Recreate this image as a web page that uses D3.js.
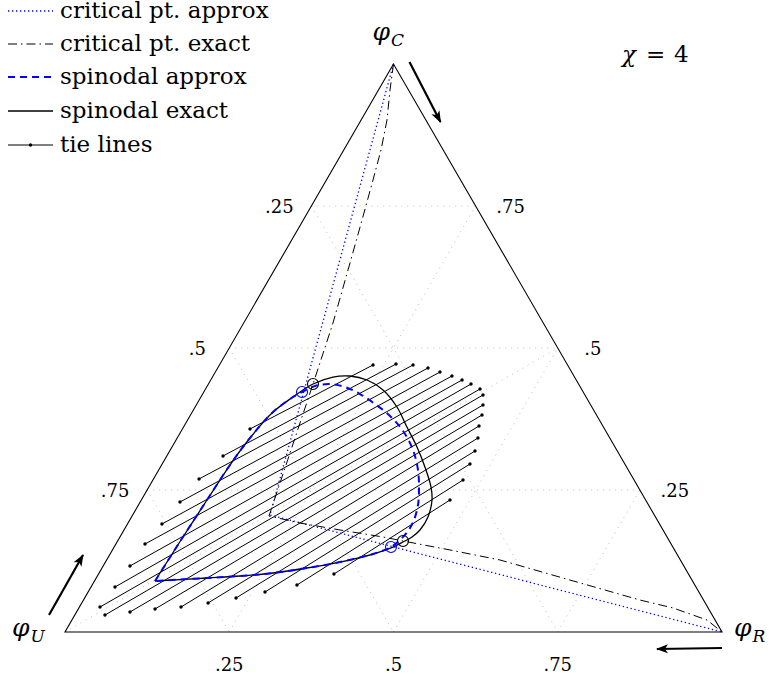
<!DOCTYPE html>
<html><head><meta charset="utf-8">
<script src="https://cdn.jsdelivr.net/npm/d3@7"></script>
<style>body{margin:0;background:#fff} svg{display:block}</style>
</head><body>
<svg id="chart" width="773" height="680"></svg>
<script>
// Compositions are stored as [phiR, phiC]; phiU = 1 - phiR - phiC.
const gridLevels = [0.25, 0.5, 0.75];
const tickLabels = {0.25: ".25", 0.5: ".5", 0.75: ".75"};
const chi = 4;

// tie lines: lower (U-rich) and upper ends, paired by index
const tieLow = [
  [0.1029,0.3574],[0.0856,0.3099],[0.0693,0.2694],[0.0606,0.2289],[0.0525,0.1901],
  [0.0443,0.1549],[0.0408,0.1162],[0.0365,0.0792],[0.0313,0.0440],[0.0459,0.0299],
  [0.0813,0.0352],[0.1168,0.0405],[0.1546,0.0440],[0.1922,0.0511],[0.2304,0.0599],
  [0.2692,0.0704],[0.3117,0.0827],[0.3583,0.1021]
];
const tieHigh = [
  [0.2338,0.4701],[0.2679,0.4718],[0.2947,0.4701],[0.3201,0.4648],[0.3419,0.4577],
  [0.3636,0.4507],[0.3825,0.4437],[0.3997,0.4366],[0.4178,0.4278],[0.4276,0.4173],
  [0.4364,0.3996],[0.4437,0.3820],[0.4488,0.3627],[0.4578,0.3415],[0.4647,0.3187],
  [0.4685,0.2958],[0.4720,0.2676],[0.4698,0.2324]
];

const spinodalExact = [
  [0.0921,0.0898],[0.0956,0.1620],[0.0999,0.2324],[0.1041,0.2940],[0.1108,0.3415],
  [0.1223,0.3856],[0.1401,0.4137],[0.1592,0.4366],[0.1834,0.4489],[0.2084,0.4507],
  [0.2379,0.4437],[0.2710,0.4261],[0.3072,0.3961],[0.3400,0.3609],[0.3729,0.3257],
  [0.4026,0.2905],[0.4294,0.2553],[0.4424,0.2324],[0.4512,0.2025],[0.4505,0.1796],
  [0.4445,0.1673],[0.4352,0.1585],[0.4244,0.1496],[0.4001,0.1373],[0.3570,0.1232],
  [0.3119,0.1127],[0.2646,0.1039],[0.2171,0.0986],[0.1685,0.0951],[0.0921,0.0898]
];
const spinodalApprox = [
  [0.0921,0.0898],[0.0956,0.1620],[0.0999,0.2324],[0.1041,0.2940],[0.1108,0.3415],
  [0.1223,0.3856],[0.1401,0.4137],[0.1495,0.4225],[0.1640,0.4331],[0.1850,0.4366],
  [0.2105,0.4313],[0.2395,0.4190],[0.2711,0.4014],[0.3046,0.3803],[0.3376,0.3539],
  [0.3695,0.3204],[0.3947,0.2852],[0.4138,0.2500],[0.4255,0.2236],[0.4326,0.1972],
  [0.4332,0.1778],[0.4289,0.1620],[0.4214,0.1496],[0.4001,0.1373],[0.3570,0.1232],
  [0.3119,0.1127],[0.2646,0.1039],[0.2171,0.0986],[0.1685,0.0951],[0.0921,0.0898]
];

const criticalApprox = [[0.1495,0.4225],[0.4214,0.1496]];
const criticalExact = [[0.1592,0.4366],[0.4344,0.1602]];
const criticalApproxLocus = [[0,1],[0.2090,0.2060],[1,0]];
const criticalExactLocus = [
  [0,1],[0.0176,0.9542],[0.0394,0.9014],[0.0567,0.8486],[0.0709,0.7958],[0.0894,0.7254],
  [0.1090,0.6496],[0.1359,0.5440],[0.1592,0.4366],[0.1838,0.3204],[0.2084,0.2042],
  [0.2617,0.1919],[0.3288,0.1796],[0.4003,0.1673],[0.4344,0.1602],[0.5138,0.1444],
  [0.5987,0.1268],[0.7228,0.0915],[0.8470,0.0563],[0.9043,0.0423],[0.9666,0.0211],[1,0]
];

const legendItems = ["critical pt. approx", "critical pt. exact", "spinodal approx", "spinodal exact", "tie lines"];

// ---- projection of the simplex ----
const sx = d3.scaleLinear().domain([0, 1]).range([65, 722]);
const sy = d3.scaleLinear().domain([0, 1]).range([632, 64]);
const px = d => sx(d[0] + d[1] / 2);
const py = d => sy(d[1]);

const svg = d3.select("#chart");
const BLUE = "#0000ff";
const FONT = "DejaVu Serif";

// text helper: font set on every text element
function serifText(parent, size) {
  return parent.append("text")
    .attr("font-family", FONT)
    .attr("font-size", size)
    .attr("fill", "#000");
}

// arrowhead marker
svg.append("defs").append("marker")
  .attr("id", "head").attr("viewBox", "0 -5 12 10")
  .attr("refX", 11).attr("refY", 0)
  .attr("markerWidth", 12).attr("markerHeight", 10)
  .attr("markerUnits", "userSpaceOnUse").attr("orient", "auto")
  .append("path").attr("d", "M0,-4.5 L12,0 L0,4.5 L3,0 Z").attr("fill", "#000");

// ---- grid ----
const gridG = svg.append("g").attr("stroke", "#b4b4b4").attr("stroke-width", 0.9)
  .attr("stroke-dasharray", "1 5").attr("fill", "none");
const gridSegs = [];
gridLevels.forEach(v => {
  gridSegs.push([[0, v], [1 - v, v]]);        // phiC = v
  gridSegs.push([[0, 1 - v], [1 - v, 0]]);    // phiU = v
  gridSegs.push([[v, 0], [v, 1 - v]]);        // phiR = v
});
gridSegs.push([[0, 0], [0.5, 0.5]]);          // median from U
gridSegs.forEach(s => gridG.append("line")
  .attr("x1", px(s[0])).attr("y1", py(s[0])).attr("x2", px(s[1])).attr("y2", py(s[1])));

// ---- triangle ----
const verts = {C: [0, 1], U: [0, 0], R: [1, 0]};
svg.append("path")
  .attr("d", d3.line().x(px).y(py)([verts.C, verts.U, verts.R, verts.C]) + "Z")
  .attr("fill", "none").attr("stroke", "#000").attr("stroke-width", 1.1);

// ---- tick labels ----
const tickG = svg.append("g");
gridLevels.forEach(v => {
  const L = [0, v];      // left edge, labelled with phiU
  serifText(tickG, 18).attr("text-anchor", "middle")
    .attr("x", px(L) - 32).attr("y", py(L) + 7).text(tickLabels[1 - v]);
  const Rt = [1 - v, v]; // right edge, labelled with phiC
  serifText(tickG, 18).attr("text-anchor", "middle")
    .attr("x", px(Rt) + 35).attr("y", py(Rt) + 7).text(tickLabels[v]);
  const B = [v, 0];      // bottom edge, labelled with phiR
  serifText(tickG, 18).attr("text-anchor", "middle")
    .attr("x", px(B)).attr("y", py(B) + 39).text(tickLabels[v]);
});

// ---- tie lines ----
const tieG = svg.append("g");
tieLow.forEach((a, i) => {
  const b = tieHigh[i];
  tieG.append("line").attr("x1", px(a)).attr("y1", py(a)).attr("x2", px(b)).attr("y2", py(b))
    .attr("stroke", "#000").attr("stroke-width", 1);
  [a, b].forEach(p => tieG.append("circle").attr("cx", px(p)).attr("cy", py(p)).attr("r", 1.7).attr("fill", "#000"));
});

// ---- spinodals ----
const curve = d3.line().x(px).y(py).curve(d3.curveCatmullRom.alpha(0.5));
svg.append("path").attr("d", curve(spinodalExact)).attr("fill", "none")
  .attr("stroke", "#000").attr("stroke-width", 1.3);
svg.append("path").attr("d", curve(spinodalApprox)).attr("fill", "none")
  .attr("stroke", BLUE).attr("stroke-width", 2).attr("stroke-dasharray", "7 5");

// ---- critical point loci ----
const lin = d3.line().x(px).y(py);
svg.append("path").attr("d", lin(criticalApproxLocus)).attr("fill", "none")
  .attr("stroke", BLUE).attr("stroke-width", 1.3).attr("stroke-dasharray", "1.3 2.7");
svg.append("path").attr("d", lin(criticalExactLocus)).attr("fill", "none")
  .attr("stroke", "#000").attr("stroke-width", 1).attr("stroke-dasharray", "9 4 1.5 4");

criticalApprox.forEach(p => svg.append("circle").attr("cx", px(p)).attr("cy", py(p)).attr("r", 5.5)
  .attr("fill", "none").attr("stroke", BLUE).attr("stroke-width", 1.1));
criticalExact.forEach(p => svg.append("circle").attr("cx", px(p)).attr("cy", py(p)).attr("r", 5.5)
  .attr("fill", "none").attr("stroke", "#000").attr("stroke-width", 1.1));

// ---- direction arrows beside each vertex ----
const arrows = [
  {v: verts.C, from: [16, -2], to: [47, 58]},
  {v: verts.U, from: [-16, -17], to: [18, -77]},
  {v: verts.R, from: [0, 16], to: [-65, 17]}
];
arrows.forEach(a => svg.append("line")
  .attr("x1", px(a.v) + a.from[0]).attr("y1", py(a.v) + a.from[1])
  .attr("x2", px(a.v) + a.to[0]).attr("y2", py(a.v) + a.to[1])
  .attr("stroke", "#000").attr("stroke-width", 2.2).attr("marker-end", "url(#head)"));

// ---- vertex labels ----
function vertexLabel(x, y, sub) {
  const t = serifText(svg, 25).attr("x", x).attr("y", y).attr("font-style", "italic");
  t.append("tspan").text("φ");
  t.append("tspan").attr("font-size", 17).attr("dy", 6).attr("dx", 1).text(sub);
}
vertexLabel(px(verts.C) - 21, py(verts.C) - 24, "C");
vertexLabel(px(verts.U) - 53, py(verts.U) + 4, "U");
vertexLabel(px(verts.R) + 12, py(verts.R) + 4, "R");

// chi annotation
const chiT = serifText(svg, 23).attr("y", 62);
chiT.append("tspan").attr("x", 622).attr("font-style", "italic").text("χ");
chiT.append("tspan").attr("x", 646).text("=");
chiT.append("tspan").attr("x", 674).text(chi);

// ---- legend ----
const lg = svg.append("g");
const rowY = [11, 44, 77, 111, 145];
legendItems.forEach((name, i) => {
  const y = rowY[i];
  const ln = lg.append("line").attr("x1", 8).attr("x2", 53).attr("y1", y).attr("y2", y);
  if (i === 0) ln.attr("stroke", BLUE).attr("stroke-width", 1.3).attr("stroke-dasharray", "1.3 2.7");
  if (i === 1) ln.attr("stroke", "#000").attr("stroke-width", 1).attr("stroke-dasharray", "9 4 1.5 4");
  if (i === 2) ln.attr("stroke", BLUE).attr("stroke-width", 2).attr("stroke-dasharray", "7 5");
  if (i === 3) ln.attr("stroke", "#000").attr("stroke-width", 1.3);
  if (i === 4) {
    ln.attr("stroke", "#000").attr("stroke-width", 1);
    lg.append("circle").attr("cx", 30.5).attr("cy", y).attr("r", 1.7).attr("fill", "#000");
  }
  serifText(lg, 23).attr("x", 60).attr("y", y + 7).text(name);
});
</script>
</body></html>
